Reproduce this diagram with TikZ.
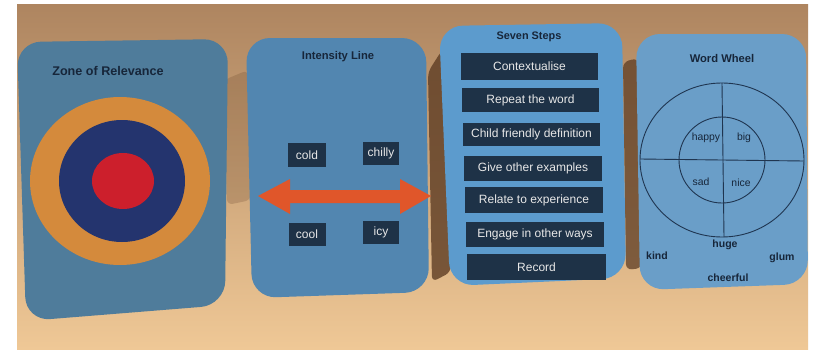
\documentclass[tikz,border=0pt]{standalone}
\usepackage{fontspec}
\setmainfont{Liberation Sans}
\definecolor{bgtop}{HTML}{AE8560}
\definecolor{bgmid}{HTML}{CFA67A}
\definecolor{bgbot}{HTML}{EFC896}
\definecolor{shadowbrown}{HTML}{5E3D24}
\definecolor{cardA}{HTML}{4F7C9B}
\definecolor{cardB}{HTML}{5286B0}
\definecolor{cardC}{HTML}{5C9BCD}
\definecolor{cardD}{HTML}{6A9EC8}
\definecolor{titlenavy}{HTML}{17263A}
\definecolor{boxnavy}{HTML}{1E3247}
\definecolor{boxtext}{HTML}{E8E8E8}
\definecolor{ringorange}{HTML}{D48A3C}
\definecolor{ringnavy}{HTML}{24346E}
\definecolor{ringred}{HTML}{CC1F2C}
\definecolor{arroworange}{HTML}{E0562A}
\definecolor{wheelline}{HTML}{1F3550}
\tikzset{
  cardshape/.style={rounded corners=24pt},
  cardtitle/.style={font=\bfseries\fontsize{11.2}{13}\selectfont, text=titlenavy, inner sep=0pt},
  wordbox/.style={fill=boxnavy, text=boxtext, font=\fontsize{12}{14}\selectfont, inner sep=0pt, minimum height=23pt},
  stepbox/.style={fill=boxnavy, text=boxtext, font=\fontsize{12}{14}\selectfont, inner sep=0pt, minimum width=137pt, minimum height=25pt},
  innerword/.style={text=titlenavy, font=\fontsize{10.4}{12}\selectfont, inner sep=0pt},
  outerword/.style={text=titlenavy, font=\bfseries\fontsize{10.5}{12}\selectfont, inner sep=0pt},
  wline/.style={draw=wheelline, line width=0.9pt},
  gapshadow/.style={fill=shadowbrown, rounded corners=6pt}
}
\begin{document}
\begin{tikzpicture}[x=1pt,y=-1pt]
\useasboundingbox (0,0) rectangle (814,351);
\fill[white] (0,0) rectangle (814,351);
\shade[top color=bgtop, middle color=bgmid, bottom color=bgbot] (17,4) rectangle (808,349);
% shadows between cards
\fill[gapshadow, opacity=0.22] (224,80) -- (248,70) -- (251,200) -- (227,205) -- cycle;
\fill[gapshadow, opacity=0.8] (428,72) -- (442,50) -- (451,272) -- (432,282) -- cycle;
\fill[gapshadow, opacity=0.75] (623,62) -- (638,58) -- (642,268) -- (626,270) -- cycle;
% cards
\fill[cardA, cardshape] (17,42) -- (228,39) -- (225,305) -- (26,321) -- cycle;
\fill[cardB, cardshape] (246,38) -- (426,38) -- (429,292) -- (252,298) -- cycle;
\fill[cardC, cardshape] (439,26) -- (622,23) -- (626,278) -- (450,286) -- cycle;
\fill[cardD, cardshape] (636,34) -- (806,34) -- (808,284) -- (640,290) -- cycle;
% card 1
\node[cardtitle, font=\bfseries\fontsize{12.6}{14}\selectfont] (t1) at (108,71) {Zone of Relevance};
\fill[ringorange] (120,181) ellipse [x radius=90, y radius=84];
\fill[ringnavy] (122,181) ellipse [x radius=63, y radius=61];
\fill[ringred] (123,181) ellipse [x radius=31, y radius=28];
% card 2
\node[cardtitle] (t2) at (338,57) {Intensity Line};
\fill[arroworange] (258,196) -- (290,179) -- (290,190) -- (400,190) -- (400,179) -- (431,196)
  -- (400,214) -- (400,203) -- (290,203) -- (290,214) -- cycle;
\node[wordbox, minimum width=38pt, minimum height=24pt] (cold) at (307,155) {cold};
\node[wordbox, minimum width=36pt] (chilly) at (381,153) {chilly};
\node[wordbox, minimum width=37pt] (cool) at (307,234) {cool};
\node[wordbox, minimum width=36pt] (icy) at (381,232) {icy};
% card 3
\node[cardtitle, font=\bfseries\fontsize{10.9}{13}\selectfont] (t3) at (529,37) {Seven Steps};
\node[stepbox, minimum height=27pt] (s1) at (529.5,66.5) {Contextualise};
\node[stepbox, minimum height=24pt] (s2) at (530.5,100) {Repeat the word};
\node[stepbox, minimum height=23pt] (s3) at (531.5,134) {Child friendly definition};
\node[stepbox, minimum width=138pt] (s4) at (533,168.5) {Give other examples};
\node[stepbox, minimum width=138pt, minimum height=26pt] (s5) at (534,200) {Relate to experience};
\node[stepbox, minimum width=138pt] (s6) at (535,234.5) {Engage in other ways};
\node[stepbox, minimum width=139pt, minimum height=26pt] (s7) at (536.5,267) {Record};
% card 4
\node[cardtitle] (t4) at (722,58) {Word Wheel};
\draw[wline] (722,160) ellipse [x radius=82, y radius=77];
\draw[wline] (722,160) circle [radius=43];
\draw[wline] (640,159) -- (804,161);
\draw[wline] (722,83) -- (724,237);
\node[innerword] (happy) at (706,138) {happy};
\node[innerword] (big) at (744,138) {big};
\node[innerword] (sad) at (701,182) {sad};
\node[innerword] (nice) at (741,183) {nice};
\node[outerword] (huge) at (725,245) {huge};
\node[outerword] (kind) at (657,256) {kind};
\node[outerword] (glum) at (782,258) {glum};
\node[outerword] (cheerful) at (728,278) {cheerful};
\end{tikzpicture}
\end{document}
